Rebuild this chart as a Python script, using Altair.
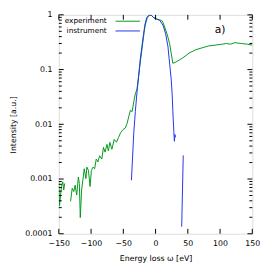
import altair as alt
import pandas as pd

# ---------------- data ----------------
exp_a_E = [-150, -148.9, -145.9, -143.9, -142.4, -140.9]
exp_a_I = [9.0e-4, 3.2e-4, 7.3e-4, 8.9e-4, 6.3e-4, 8.3e-4]

exp_b_E = [-131.8, -129.2, -126.8, -124.7, -122.3, -119.7, -118.2, -116.7, -114.7, -112.1,
           -110.6, -108.0, -106.5, -104.1, -101.5, -99.5, -97.0, -94.4, -92.0, -89.4,
           -86.8, -83.3, -80.8, -78.3, -75.3, -73.2, -70.8, -67.7, -64.1, -60.6,
           -57.6, -54.1, -50.5, -47.0, -44.0, -41.5, -39.0, -36.4, -33.8, -31.4,
           -28.8, -26.2, -23.8, -21.2, -18.6, -16.2, -12.6, -8.6, -6.1, -3.5,
           1.5, 6.5, 10.6, 14.1, 17.7, 21.7, 24.2, 26.8, 31.8, 37.0,
           42.0, 52.0, 62.1, 72.3, 82.3, 92.4, 102.6, 110.2, 116.0, 122.7,
           132.9, 142.9, 150.0]
exp_b_I = [3.9e-4, 6.8e-4, 5.9e-4, 7.7e-4, 5.1e-4, 1.09e-3, 8.3e-4, 1.97e-4, 6.3e-4, 1.09e-3,
           1.54e-3, 1.02e-3, 1.65e-3, 1.44e-3, 7.3e-4, 1.44e-3, 1.65e-3, 1.54e-3, 2.32e-3, 2.05e-3,
           2.66e-3, 2.32e-3, 3.8e-3, 3.1e-3, 4.3e-3, 3.27e-3, 4.68e-3, 3.5e-3, 5.3e-3, 4.7e-3,
           5.7e-3, 7.05e-3, 8.0e-3, 8.5e-3, 1.05e-2, 1.4e-2, 1.8e-2, 1.7e-2, 2.55e-2, 3.6e-2,
           4.4e-2, 7.65e-2, 0.132, 0.23, 0.40, 0.64, 0.90, 1.0, 0.97, 0.90,
           0.84, 0.81, 0.77, 0.60, 0.45, 0.30, 0.20, 0.13, 0.138, 0.15,
           0.163, 0.20, 0.23, 0.25, 0.27, 0.28, 0.29, 0.30, 0.29, 0.31,
           0.30, 0.29, 0.28]

ins_a_E = [-37.4, -33.8, -31.4, -28.8, -26.2, -23.8, -21.2, -18.6, -16.2, -13.6,
           -9.5, -6.1, -3.5, 1.5, 6.5, 11.7, 15.6, 19.2, 21.7, 24.2,
           25.8, 26.8, 28.3, 29.2, 30.0, 30.8]
ins_a_I = [9.5e-4, 7.0e-3, 1.7e-2, 3.85e-2, 7.65e-2, 0.152, 0.263, 0.454, 0.685, 0.90,
           1.0, 0.97, 0.90, 0.84, 0.79, 0.64, 0.45, 0.263, 0.132, 0.067,
           0.034, 0.017, 7.4e-3, 4.9e-3, 6.5e-3, 5.8e-3]

ins_b_E = [40.5, 42.9]
ins_b_I = [1.35e-4, 2.7e-3]

series_names = ["experiment", "instrument"]
series_colors = ["#009a1a", "#2233ee"]

x_ticks = [-150, -100, -50, 0, 50, 100, 150]
y_ticks = [1e-4, 1e-3, 1e-2, 1e-1, 1]
y_minor = [k * 10.0 ** n for n in range(-4, 0) for k in range(2, 10)]

panel_label = ["a)"]
panel_label_E = [100]
panel_label_I = [0.53]

# ---------------- tables ----------------
rows = []
for seg, (E, I, name) in enumerate([(exp_a_E, exp_a_I, "experiment"),
                                    (exp_b_E, exp_b_I, "experiment"),
                                    (ins_a_E, ins_a_I, "instrument"),
                                    (ins_b_E, ins_b_I, "instrument")]):
    for e, i in zip(E, I):
        rows.append({"E": e, "I": i, "series": name, "seg": seg})
df = pd.DataFrame(rows)

W, H = 198, 224
FONT = "DejaVu Sans"

xs = alt.Scale(domain=[-150, 150], nice=False, zero=False)
ys = alt.Scale(type="log", domain=[1e-4, 1], nice=False)

x_axis = alt.Axis(values=x_ticks, ticks=False, tickSize=0, domain=False, grid=False,
                  labelPadding=6, labelFontSize=8, labelFont=FONT, labelColor="#000",
                  labelOverlap=False, labelFlush=False,
                  title="Energy loss ω [eV]", titleFont=FONT, titleFontSize=8,
                  titleFontWeight="normal", titleColor="#000", titleY=21,
                  titleBaseline="top")
y_axis = alt.Axis(values=y_ticks, format=".4~f", ticks=False, tickSize=0, domain=False,
                  grid=False, labelPadding=7, labelFontSize=8, labelFont=FONT,
                  labelColor="#000", labelOverlap=False, labelFlush=False,
                  title="Intensity [a.u.]", titleFont=FONT,
                  titleFontSize=8, titleFontWeight="normal", titleColor="#000",
                  titleX=-42, titleY=H / 2, titleAngle=-90, titleBaseline="bottom",
                  titleAlign="center")

lines = alt.Chart(df).mark_line(strokeWidth=1, clip=True).encode(
    x=alt.X("E:Q", scale=xs, axis=x_axis),
    y=alt.Y("I:Q", scale=ys, axis=y_axis),
    color=alt.Color("series:N", scale=alt.Scale(domain=series_names, range=series_colors),
                    legend=None),
    detail="seg:N",
    order="E:Q",
)

ymaj = pd.DataFrame({"E": [0.0] * len(y_ticks), "I": y_ticks})
ymin = pd.DataFrame({"E": [0.0] * len(y_minor), "I": y_minor})
xmaj = pd.DataFrame({"E": x_ticks, "I": [0.01] * len(x_ticks)})


def yrule(data, x0, x1):
    return alt.Chart(data).mark_rule(color="#000", strokeWidth=1).encode(
        y=alt.Y("I:Q", scale=ys, axis=y_axis), x=alt.value(x0), x2=alt.value(x1))


def xrule(data, y0, y1):
    return alt.Chart(data).mark_rule(color="#000", strokeWidth=1).encode(
        x=alt.X("E:Q", scale=xs, axis=x_axis), y=alt.value(y0), y2=alt.value(y1))


ticks = [
    yrule(ymaj, 0, 5), yrule(ymin, 0, 3),
    yrule(ymaj, W, W - 5), yrule(ymin, W, W - 3),
    xrule(xmaj, H, H - 5), xrule(xmaj, 0, 5),
]

leg = pd.DataFrame({"name": series_names, "yy": [6.5, 16.5]})
leg_text = alt.Chart(leg).mark_text(align="right", baseline="middle", font=FONT,
                                    fontSize=7.5, color="#000").encode(
    text="name:N", x=alt.value(49), y=alt.Y("yy:Q", scale=None))
leg_line = alt.Chart(leg).mark_rule(strokeWidth=1).encode(
    x=alt.value(58), x2=alt.value(83), y=alt.Y("yy:Q", scale=None),
    color=alt.Color("name:N", scale=alt.Scale(domain=series_names, range=series_colors),
                    legend=None))

ann = alt.Chart(pd.DataFrame({"t": panel_label, "E": panel_label_E, "I": panel_label_I})
                ).mark_text(font=FONT, fontSize=11, color="#000", align="center",
                            baseline="middle").encode(
    x=alt.X("E:Q", scale=xs, axis=x_axis), y=alt.Y("I:Q", scale=ys, axis=y_axis),
    text="t:N")

chart = alt.layer(lines, *ticks, leg_line, leg_text, ann).properties(
    width=W, height=H,
    autosize=alt.AutoSizeParams(type="none"),
    padding={"left": 52, "top": 4, "right": 14, "bottom": 30},
).configure_view(stroke="#000", strokeWidth=1).configure(background="white")

chart.save("out.html", embed_options={"renderer": "svg", "actions": False})
